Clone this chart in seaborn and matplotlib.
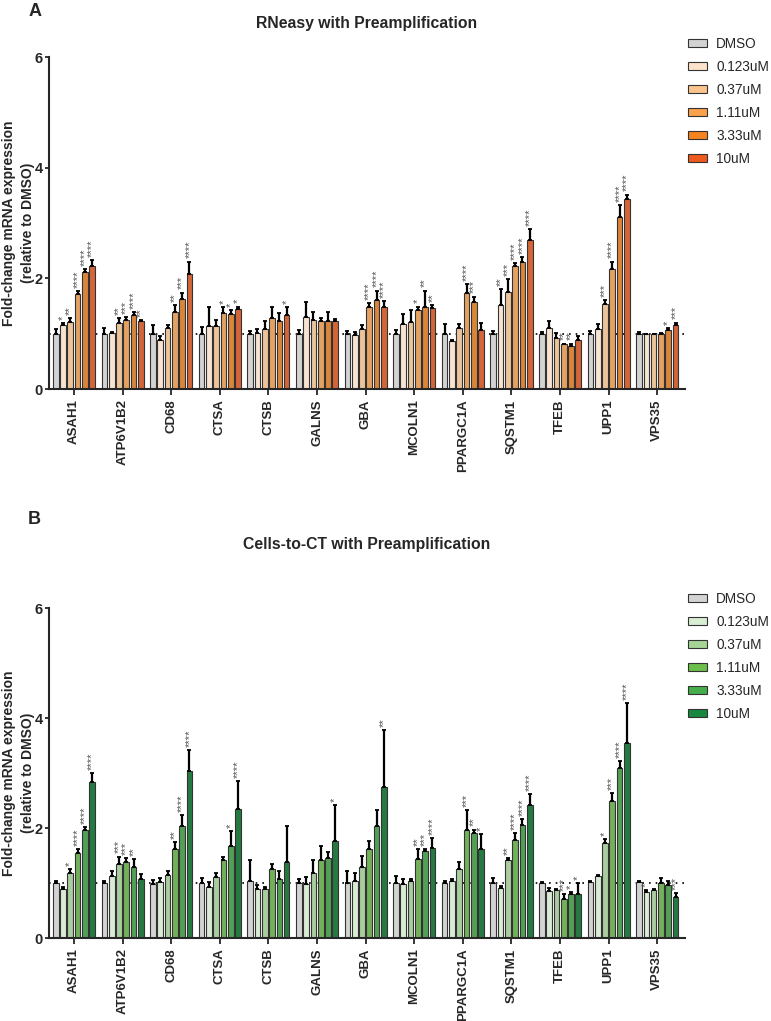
import numpy as np
import pandas as pd
import matplotlib
matplotlib.use("Agg")
import matplotlib.pyplot as plt
import seaborn as sns
from matplotlib.patches import Patch

genes = ["ASAH1", "ATP6V1B2", "CD68", "CTSA", "CTSB", "GALNS", "GBA",
         "MCOLN1", "PPARGC1A", "SQSTM1", "TFEB", "UPP1", "VPS35"]
concs = ["DMSO", "0.123uM", "0.37uM", "1.11uM", "3.33uM", "10uM"]

# Panel A: RNeasy with Preamplification (mean, upper error end, significance)
rneasy_mean = [
    [1.00, 1.16, 1.21, 1.72, 2.11, 2.22],
    [1.00, 1.02, 1.19, 1.25, 1.34, 1.22],
    [1.00, 0.89, 1.11, 1.39, 1.63, 2.08],
    [1.00, 1.14, 1.13, 1.37, 1.36, 1.45],
    [0.99, 1.02, 1.08, 1.28, 1.22, 1.33],
    [1.00, 1.30, 1.25, 1.22, 1.22, 1.22],
    [1.00, 0.98, 1.08, 1.49, 1.61, 1.49],
    [1.00, 1.18, 1.21, 1.43, 1.49, 1.47],
    [1.00, 0.87, 1.10, 1.74, 1.58, 1.07],
    [1.00, 1.52, 1.76, 2.23, 2.29, 2.69],
    [1.00, 1.11, 0.92, 0.81, 0.77, 0.89],
    [1.00, 1.09, 1.53, 2.17, 3.11, 3.43],
    [1.00, 0.99, 0.99, 1.00, 1.07, 1.15],
]
rneasy_upper = [
    [1.08, 1.19, 1.28, 1.77, 2.17, 2.33],
    [1.10, 1.03, 1.28, 1.30, 1.39, 1.24],
    [1.16, 0.95, 1.16, 1.51, 1.74, 2.30],
    [1.12, 1.48, 1.25, 1.48, 1.42, 1.49],
    [1.05, 1.08, 1.23, 1.49, 1.37, 1.48],
    [1.07, 1.57, 1.40, 1.28, 1.39, 1.27],
    [1.05, 1.03, 1.16, 1.55, 1.78, 1.59],
    [1.07, 1.36, 1.43, 1.49, 1.78, 1.52],
    [1.18, 0.89, 1.18, 1.89, 1.67, 1.19],
    [1.05, 1.80, 1.98, 2.27, 2.38, 2.89],
    [1.03, 1.22, 1.01, 0.82, 0.82, 0.96],
    [1.04, 1.17, 1.61, 2.30, 3.32, 3.51],
    [1.03, 1.00, 1.00, 1.02, 1.10, 1.20],
]
rneasy_stars = [
    ["", "*", "**", "****", "****", "****"],
    ["", "", "**", "***", "****", "**"],
    ["", "", "", "**", "***", "****"],
    ["", "", "", "*", "*", "*"],
    ["", "", "", "", "", "*"],
    ["", "", "", "", "", ""],
    ["", "", "", "****", "****", "****"],
    ["", "", "", "*", "**", "**"],
    ["", "", "", "****", "***", ""],
    ["", "**", "***", "****", "****", "****"],
    ["", "", "", "**", "**", ""],
    ["", "", "***", "****", "****", "****"],
    ["", "", "", "", "*", "***"],
]

# Panel B: Cells-to-CT with Preamplification
cells_mean = [
    [1.00, 0.89, 1.19, 1.55, 1.97, 2.84],
    [1.00, 1.13, 1.35, 1.38, 1.30, 1.08],
    [0.99, 1.02, 1.14, 1.61, 2.04, 3.04],
    [1.00, 0.93, 1.11, 1.41, 1.67, 2.35],
    [1.04, 0.89, 0.89, 1.25, 1.08, 1.39],
    [1.00, 0.98, 1.18, 1.41, 1.45, 1.77],
    [1.00, 1.04, 1.30, 1.62, 2.04, 2.75],
    [1.00, 0.98, 1.04, 1.44, 1.58, 1.64],
    [1.00, 1.04, 1.25, 1.96, 1.91, 1.61],
    [1.00, 0.91, 1.41, 1.78, 2.06, 2.41],
    [1.00, 0.86, 0.88, 0.71, 0.80, 0.80],
    [1.02, 1.12, 1.73, 2.49, 3.10, 3.55],
    [1.01, 0.83, 0.88, 1.00, 0.96, 0.75],
]
cells_upper = [
    [1.03, 0.92, 1.25, 1.62, 2.01, 3.00],
    [1.03, 1.21, 1.48, 1.45, 1.44, 1.16],
    [1.06, 1.10, 1.21, 1.74, 2.24, 3.41],
    [1.09, 1.01, 1.19, 1.47, 1.94, 2.85],
    [1.42, 0.96, 0.93, 1.35, 1.21, 2.03],
    [1.07, 1.11, 1.41, 1.68, 1.57, 2.41],
    [1.21, 1.18, 1.50, 1.76, 2.32, 3.78],
    [1.13, 1.08, 1.07, 1.61, 1.61, 1.82],
    [1.03, 1.07, 1.38, 2.32, 1.97, 1.89],
    [1.09, 0.95, 1.45, 1.91, 2.16, 2.61],
    [1.02, 0.91, 0.89, 0.80, 0.83, 1.00],
    [1.04, 1.14, 1.80, 2.63, 3.22, 4.27],
    [1.04, 0.87, 0.90, 1.09, 1.03, 0.82],
]
cells_stars = [
    ["", "", "*", "****", "****", "****"],
    ["", "", "***", "***", "**", ""],
    ["", "", "", "**", "****", "****"],
    ["", "", "", "", "*", "****"],
    ["", "", "", "", "", ""],
    ["", "", "", "", "", "*"],
    ["", "", "", "", "", "**"],
    ["", "", "", "**", "***", "****"],
    ["", "", "", "***", "**", "*"],
    ["", "", "**", "****", "****", "****"],
    ["", "", "", "***", "*", "*"],
    ["", "", "*", "***", "****", "****"],
    ["", "*", "", "", "", "***"],
]

orange_colors = ["#d3d3d3", "#fde3cb", "#fbc48c", "#f9a24b", "#f5831f", "#ee5a1e"]
green_colors = ["#d3d3d3", "#d7eed2", "#a5d596", "#6cbf4b", "#45ad49", "#17883d"]

sns.set_style("ticks")
plt.rcParams["font.family"] = ["Liberation Sans", "DejaVu Sans"]

fig = plt.figure(figsize=(7.71, 10.21), dpi=100)
W, H = 771, 1021
ax_left, ax_right = 49, 685
axA = fig.add_axes([ax_left / W, (H - 389) / H, (ax_right - ax_left) / W, (389 - 57) / H])
axB = fig.add_axes([ax_left / W, (H - 938) / H, (ax_right - ax_left) / W, (938 - 608) / H])


def make_df(mean, upper, stars):
    rows = []
    for gi, g in enumerate(genes):
        for ci, c in enumerate(concs):
            rows.append({"gene": g, "conc": c, "value": mean[gi][ci],
                         "upper": upper[gi][ci], "stars": stars[gi][ci]})
    return pd.DataFrame(rows)


def draw_panel(ax, df, colors, title, title_pad, legend_top_px):
    sns.barplot(data=df, x="gene", y="value", hue="conc", order=genes,
                hue_order=concs, palette=colors, errorbar=None, width=0.9,
                gap=0.22, edgecolor="#333333", linewidth=0.8, ax=ax,
                legend=False)
    bar_conts = list(ax.containers)[:len(concs)]
    for ci, cont in enumerate(bar_conts):
        sub = df[df["conc"] == concs[ci]].set_index("gene").loc[genes]
        xs = np.array([b.get_x() + b.get_width() / 2 for b in cont])
        vals = sub["value"].to_numpy()
        ups = sub["upper"].to_numpy()
        ax.errorbar(xs, vals, yerr=[np.zeros_like(vals), ups - vals], fmt="none",
                    ecolor="black", elinewidth=1.6, capsize=1.3, capthick=1.3,
                    zorder=1)
        for x, u, s in zip(xs, ups, sub["stars"]):
            if s:
                ax.text(x, u + 0.06, s, rotation=90, ha="center", va="bottom",
                        fontsize=8, color="#555555", fontweight="normal")
    ax.axhline(1.0, color="black", linestyle=(0, (1, 3)), linewidth=1.2, zorder=0)
    ax.set_ylim(0, 6)
    ax.set_xlim(-0.514, 12.57)
    ax.set_yticks([0, 2, 4, 6])
    ax.set_xlabel("")
    ax.set_ylabel("Fold-change mRNA expression\n(relative to DMSO)",
                  fontsize=10, fontweight="bold", linespacing=1.5)
    ax.yaxis.set_label_coords(-0.022, 0.5)
    ax.tick_params(axis="x", labelrotation=90, labelsize=9.5, width=1.3, length=4)
    ax.tick_params(axis="y", labelsize=10.5, width=1.3, length=3, pad=1.5)
    for lab in ax.get_xticklabels() + ax.get_yticklabels():
        lab.set_fontweight("bold")
    sns.despine(ax=ax)
    for sp in ["left", "bottom"]:
        ax.spines[sp].set_linewidth(1.5)
    ax.set_title(title, fontsize=11.3, fontweight="bold", pad=title_pad)
    handles = [Patch(facecolor=c, edgecolor="#333333", linewidth=0.8, label=l)
               for c, l in zip(colors, concs)]
    fig.legend(handles=handles, loc="upper left",
               bbox_to_anchor=(683 / W, 1 - (legend_top_px) / H),
               frameon=False, fontsize=9.8, handlelength=1.35, handleheight=0.6,
               labelspacing=0.66, handletextpad=0.7, borderaxespad=0)


draw_panel(axA, make_df(rneasy_mean, rneasy_upper, rneasy_stars), orange_colors,
           "RNeasy with Preamplification", 21, 31.5)
draw_panel(axB, make_df(cells_mean, cells_upper, cells_stars), green_colors,
           "Cells-to-CT with Preamplification", 42.5, 586.5)

fig.text(29 / W, 1 - 11 / H, "A", fontsize=13, fontweight="bold", va="center")
fig.text(28 / W, 1 - 520 / H, "B", fontsize=13, fontweight="bold", va="center")

fig.savefig("out.png", dpi=100)
